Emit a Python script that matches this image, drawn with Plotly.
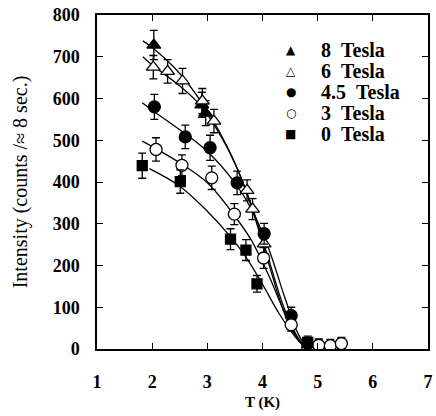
import plotly.graph_objects as go

# ---- data ----
t8 = [2.03, 2.90, 2.97]
i8 = [728, 585, 565]
e8 = [35, 30, 30]

t6 = [2.02, 2.28, 2.55, 2.91, 3.12, 3.72, 3.82, 4.03]
i6 = [675, 665, 642, 594, 546, 380, 335, 252]
e6 = [28, 28, 30, 30, 28, 25, 25, 25]

t45 = [2.04, 2.60, 3.05, 3.54, 4.03, 4.52]
i45 = [580, 508, 482, 398, 276, 80]
e45 = [30, 28, 30, 28, 25, 20]

t3 = [2.07, 2.54, 3.08, 3.49, 4.02, 4.52, 4.82, 5.02, 5.23, 5.43]
i3 = [478, 440, 410, 323, 218, 58, 6, 9, 8, 13]
e3 = [28, 25, 28, 25, 25, 15, 15, 15, 15, 15]

t0 = [1.82, 2.51, 3.42, 3.70, 3.90, 4.82]
i0 = [439, 401, 263, 237, 156, 16]
e0 = [30, 28, 25, 25, 20, 15]

# fitted curves
f8x = [1.83, 2.0, 2.5, 2.9, 3.2, 3.5, 3.8, 4.1, 4.4, 4.65, 4.82]
f8y = [738, 722, 660, 590, 525, 445, 345, 220, 95, 25, 0]
f6x = [1.83, 2.0, 2.5, 2.9, 3.2, 3.5, 3.8, 4.1, 4.4, 4.65, 4.82]
f6y = [700, 680, 630, 580, 520, 445, 340, 210, 85, 20, 0]
f45x = [1.82, 2.0, 2.5, 3.0, 3.5, 3.8, 4.1, 4.4, 4.65, 4.82]
f45y = [590, 572, 525, 473, 398, 335, 245, 125, 35, 0]
f3x = [1.82, 2.0, 2.5, 3.0, 3.5, 3.8, 4.1, 4.4, 4.65, 4.82]
f3y = [498, 485, 446, 398, 318, 260, 180, 88, 25, 0]
f0x = [1.95, 2.5, 3.0, 3.4, 3.7, 4.0, 4.3, 4.6, 4.82]
f0y = [432, 390, 330, 272, 220, 155, 85, 28, 0]

labels = ["8\u00a0\u00a0Tesla", "6\u00a0\u00a0Tesla", "4.5\u00a0\u00a0Tesla",
          "3\u00a0\u00a0Tesla", "0\u00a0\u00a0Tesla"]
key_symbols = ["\u25b2", "\u25b3", "\u25cf", "\u25cb", "\u25a0"]

FONT = "Liberation Serif"
fig = go.Figure()

for fx, fy in [(f8x, f8y), (f6x, f6y), (f45x, f45y), (f3x, f3y), (f0x, f0y)]:
    fig.add_trace(go.Scatter(x=fx, y=fy, mode="lines", showlegend=False,
                             line=dict(color="black", width=1.3, shape="spline", smoothing=1.0),
                             hoverinfo="skip"))

series = [
    (t8, i8, e8, "triangle-up", "black", 12),
    (t6, i6, e6, "triangle-up", "white", 12),
    (t45, i45, e45, "circle", "black", 12),
    (t3, i3, e3, "circle", "white", 12),
    (t0, i0, e0, "square", "black", 10),
]
for (x, y, e, sym, col, sz), lab in zip(series, labels):
    fig.add_trace(go.Scatter(
        x=x, y=y, mode="markers", name=lab, showlegend=False,
        marker=dict(symbol=sym, size=sz, color=col, line=dict(color="black", width=1.3)),
        error_y=dict(type="data", array=e, visible=True, color="black",
                     thickness=1.3, width=4),
    ))

# key (legend) drawn as text inside the plot area
row_top = 0.895
row_step = 0.0625
for k, (sym, lab) in enumerate(zip(key_symbols, labels)):
    yy = row_top - k * row_step
    fig.add_annotation(xref="paper", yref="paper", x=0.585, y=yy, text=sym,
                       showarrow=False, xanchor="center", yanchor="middle",
                       font=dict(family="DejaVu Sans", size=12, color="black"))
    fig.add_annotation(xref="paper", yref="paper", x=0.672, y=yy, text=lab,
                       showarrow=False, xanchor="left", yanchor="middle",
                       font=dict(family=FONT, size=20, color="black", weight="bold"))

fig.update_layout(
    width=436, height=416,
    margin=dict(l=97, r=3, t=15, b=67),
    plot_bgcolor="white", paper_bgcolor="white",
    font=dict(family=FONT, color="black", size=16),
    showlegend=False,
)
fig.update_xaxes(range=[1, 7], tickvals=[1, 2, 3, 4, 5, 6, 7],
                 showline=True, linecolor="black", linewidth=1.5, mirror="ticks",
                 ticks="inside", ticklen=6, tickwidth=1.3, tickcolor="black",
                 showgrid=False, zeroline=False,
                 ticklabelstandoff=16,
                 tickfont=dict(family=FONT, size=18, weight="bold"),
                 title=dict(text="T (K)", font=dict(family=FONT, size=15, weight="bold"),
                            standoff=5))
fig.update_yaxes(range=[0, 800], tickvals=[0, 100, 200, 300, 400, 500, 600, 700, 800],
                 showline=True, linecolor="black", linewidth=1.5, mirror="ticks",
                 ticks="inside", ticklen=6, tickwidth=1.3, tickcolor="black",
                 showgrid=False, zeroline=False,
                 ticklabelstandoff=12,
                 tickfont=dict(family=FONT, size=18, weight="bold"),
                 title=dict(text="Intensity (counts /\u2248 8 sec.)",
                            font=dict(family=FONT, size=20), standoff=20))

fig.write_html("out.html")
